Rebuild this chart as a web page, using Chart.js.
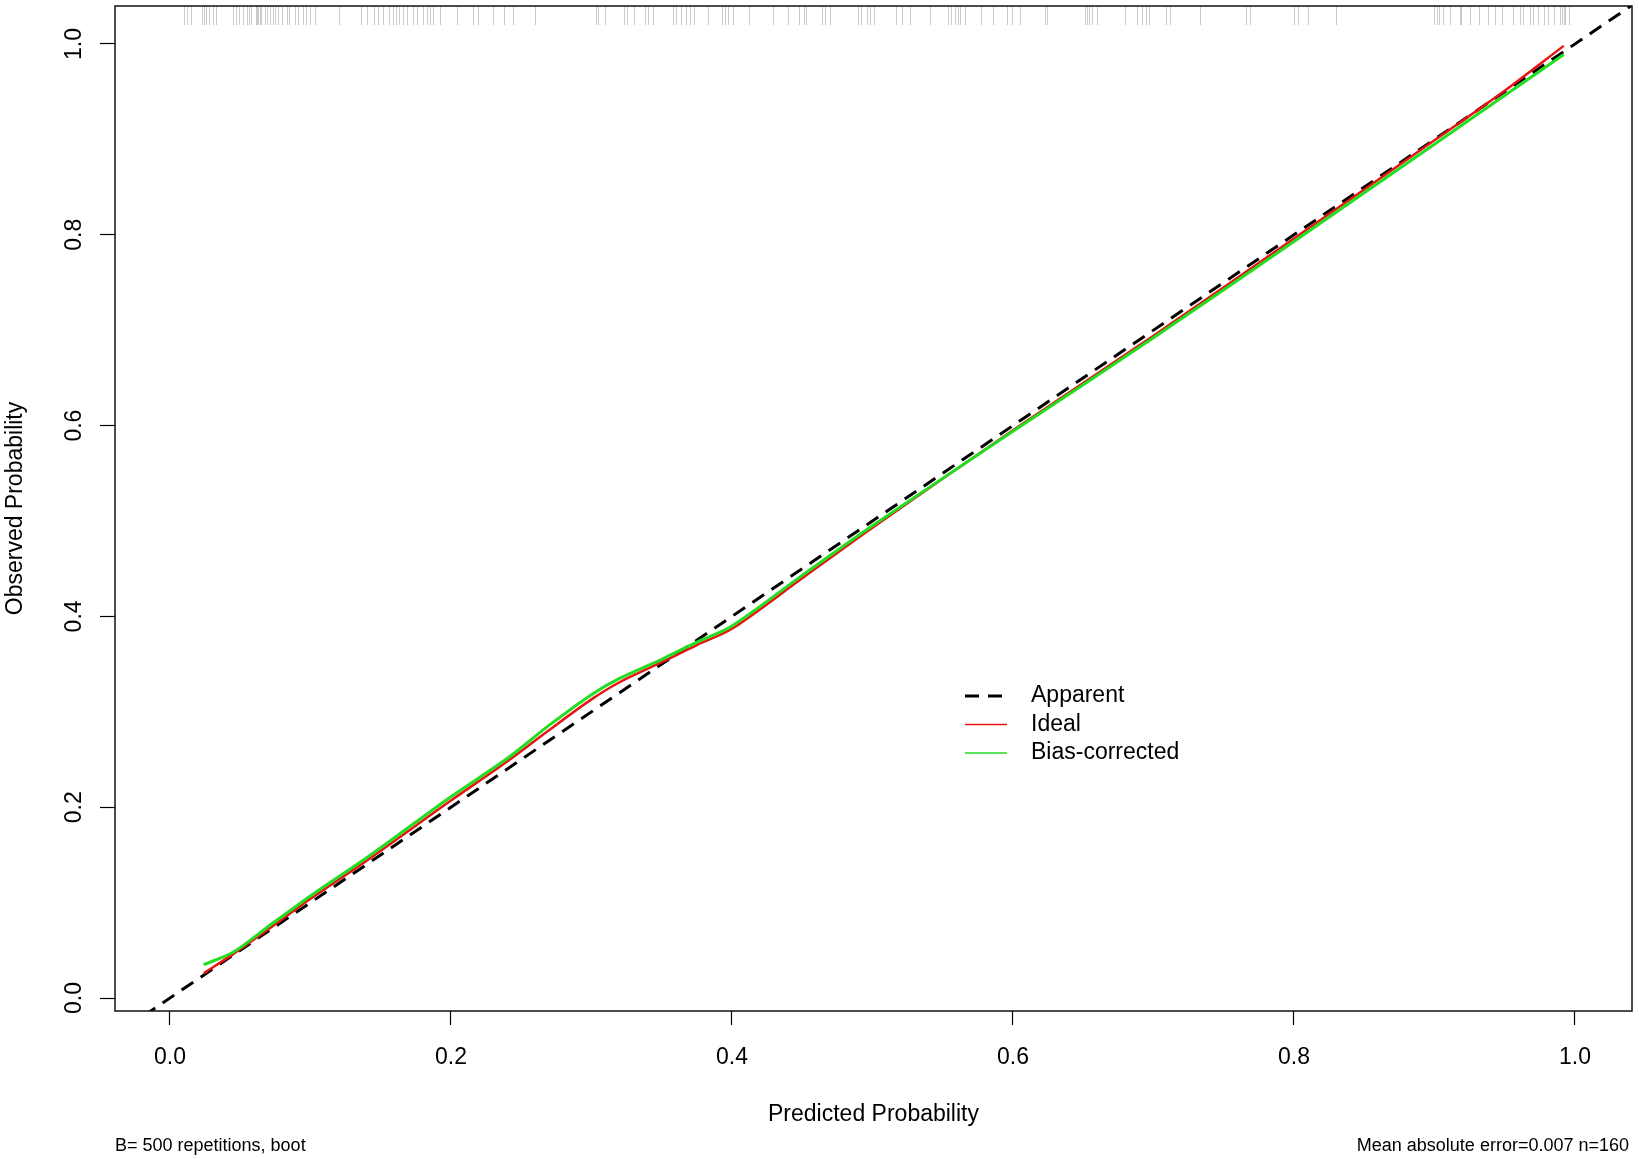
<!DOCTYPE html>
<html>
<head>
<meta charset="utf-8">
<title>Calibration curve</title>
<script src="https://cdn.jsdelivr.net/npm/chart.js@4.4.1/dist/chart.umd.min.js"></script>
<style>
  html, body { margin: 0; padding: 0; background: #fff; }
  #wrap { width: 1639px; height: 1159px; }
</style>
</head>
<body>
<div id="wrap"><canvas id="canvas" width="1639" height="1159"></canvas></div>
<script>
// predicted probability grid and the two smoothed curves
const predicted = [0.024, 0.045, 0.07, 0.1, 0.14, 0.2, 0.24, 0.27, 0.3, 0.32, 0.35, 0.375, 0.4, 0.45, 0.5, 0.6, 0.7, 0.8, 0.9, 0.95, 0.992];
const ideal = [0.026, 0.046, 0.072, 0.104, 0.144, 0.207, 0.248, 0.281, 0.313, 0.331, 0.352, 0.370, 0.387, 0.440, 0.493, 0.595, 0.694, 0.796, 0.899, 0.951, 0.998];
const biasCorrected = [0.035, 0.048, 0.075, 0.107, 0.147, 0.211, 0.251, 0.286, 0.318, 0.335, 0.355, 0.373, 0.390, 0.443, 0.495, 0.594, 0.692, 0.793, 0.895, 0.946, 0.989];

// dashed reference line (runs past the plot edges, clipped)
const apparentX = [-0.1, 1.1];
const apparentY = [-0.1, 1.1];

// rug of predicted values along the top
const rugX = [
  0.010, 0.012, 0.015, 0.023, 0.024, 0.026, 0.028, 0.031, 0.033, 0.045, 0.047, 0.049, 0.052, 0.055, 0.056, 0.058,
  0.061, 0.062, 0.063, 0.064, 0.065, 0.068, 0.069, 0.071, 0.073, 0.075, 0.077, 0.080, 0.083, 0.085, 0.089, 0.091,
  0.095, 0.097, 0.100, 0.103, 0.120, 0.136, 0.140, 0.145, 0.148, 0.152, 0.156, 0.159, 0.161, 0.163, 0.166, 0.169,
  0.173, 0.176, 0.180, 0.183, 0.185, 0.187, 0.192, 0.204, 0.216, 0.219, 0.230, 0.238, 0.244, 0.260, 0.303, 0.305,
  0.310, 0.323, 0.325, 0.330, 0.338, 0.340, 0.344, 0.358, 0.360, 0.364, 0.367, 0.370, 0.373, 0.383, 0.393, 0.395,
  0.397, 0.401, 0.412, 0.429, 0.440, 0.448, 0.451, 0.453, 0.464, 0.466, 0.470, 0.490, 0.492, 0.496, 0.498, 0.501,
  0.517, 0.521, 0.527, 0.541, 0.554, 0.556, 0.559, 0.561, 0.562, 0.566, 0.577, 0.586, 0.596, 0.599, 0.605, 0.623,
  0.624, 0.651, 0.653, 0.654, 0.656, 0.660, 0.680, 0.688, 0.692, 0.695, 0.697, 0.709, 0.712, 0.733, 0.766, 0.769,
  0.800, 0.803, 0.810, 0.830, 0.900, 0.902, 0.903, 0.906, 0.911, 0.918, 0.919, 0.925, 0.932, 0.938, 0.943, 0.948,
  0.956, 0.961, 0.963, 0.968, 0.970, 0.974, 0.978, 0.981, 0.985, 0.989, 0.991, 0.992, 0.993, 0.996
];

const xTicks = [0, 0.2, 0.4, 0.6, 0.8, 1.0];
const yTicks = [0, 0.2, 0.4, 0.6, 0.8, 1.0];
const footLeft = "B= 500 repetitions, boot";
const footRight = "Mean absolute error=0.007 n=160";

const FONT = "'Liberation Sans', Arial, Helvetica, sans-serif";
Chart.defaults.font.family = FONT;
Chart.defaults.color = "#000";

const toPoints = (xs, ys) => xs.map((v, i) => ({ x: v, y: ys[i] }));

const extras = {
  id: "extras",
  afterDatasetsDraw(chart) {
    const { ctx, chartArea: a, scales: { x } } = chart;
    ctx.save();
    ctx.strokeStyle = "rgba(140,140,140,0.45)";
    ctx.lineWidth = 1;
    rugX.forEach((v) => {
      const px = Math.round(x.getPixelForValue(v)) + 0.5;
      ctx.beginPath();
      ctx.moveTo(px, a.top);
      ctx.lineTo(px, a.top + 19);
      ctx.stroke();
    });
    ctx.restore();
  },
  afterDraw(chart) {
    const { ctx, chartArea: a, scales: { y } } = chart;
    ctx.save();

    // box round the plot
    ctx.strokeStyle = "#111";
    ctx.lineWidth = 1.5;
    ctx.strokeRect(a.left, a.top, a.right - a.left, a.bottom - a.top);

    // y tick labels, rotated like R's las=0
    ctx.fillStyle = "#000";
    ctx.font = "23px " + FONT;
    ctx.textAlign = "center";
    ctx.textBaseline = "middle";
    yTicks.forEach((v) => {
      ctx.save();
      ctx.translate(75, y.getPixelForValue(v));
      ctx.rotate(-Math.PI / 2);
      ctx.fillText(v.toFixed(1), 0, 0);
      ctx.restore();
    });

    // legend
    const rows = [696, 724.5, 753];
    chart.data.datasets.forEach((ds, i) => {
      ctx.beginPath();
      ctx.strokeStyle = ds.borderColor;
      ctx.lineWidth = ds.borderDash ? 3 : 1.5;
      ctx.setLineDash(ds.borderDash || []);
      ctx.moveTo(965, rows[i]);
      ctx.lineTo(1007, rows[i]);
      ctx.stroke();
      ctx.setLineDash([]);
      ctx.textAlign = "left";
      ctx.fillText(ds.label, 1031, rows[i]);
    });

    // footnotes
    ctx.font = "18px " + FONT;
    ctx.textBaseline = "alphabetic";
    ctx.textAlign = "left";
    ctx.fillText(footLeft, 115, 1151);
    ctx.textAlign = "right";
    ctx.fillText(footRight, 1629, 1151);
    ctx.restore();
  }
};

const config = {
  type: "scatter",
  data: {
    datasets: [
      {
        label: "Apparent",
        data: toPoints(apparentX, apparentY),
        showLine: true,
        borderColor: "#000",
        borderWidth: 3,
        borderDash: [14, 9],
        pointRadius: 0,
        clip: 0,
        order: 3,
      },
      {
        label: "Ideal",
        data: toPoints(predicted, ideal),
        showLine: true,
        borderColor: "#e81414",
        borderWidth: 2.5,
        pointRadius: 0,
        tension: 0.3,
        order: 2,
      },
      {
        label: "Bias-corrected",
        data: toPoints(predicted, biasCorrected),
        showLine: true,
        borderColor: "#22dd22",
        borderWidth: 3,
        pointRadius: 0,
        tension: 0.3,
        order: 1,
      },
    ],
  },
  options: {
    responsive: false,
    animation: false,
    events: [],
    layout: { padding: { left: 0, right: 7, top: 6, bottom: 0 } },
    plugins: {
      legend: { display: false },
      tooltip: { enabled: false },
    },
    scales: {
      x: {
        type: "linear",
        min: -0.0391,
        max: 1.0406,
        border: { display: false },
        grid: { drawOnChartArea: false, drawTicks: true, tickLength: 14, tickColor: "#000", tickWidth: 1.2 },
        ticks: {
          font: { size: 23 },
          color: "#000",
          padding: 19,
          maxRotation: 0,
          autoSkip: false,
          callback: (v) => Number(v).toFixed(1),
        },
        afterBuildTicks: (s) => { s.ticks = xTicks.map((v) => ({ value: v })); },
        afterFit: (s) => { s.height = 148; },
        title: {
          display: true,
          text: "Predicted Probability",
          font: { size: 23 },
          color: "#000",
          padding: { top: 0, bottom: 31 },
        },
      },
      y: {
        type: "linear",
        min: -0.0136,
        max: 1.0398,
        border: { display: false },
        grid: { drawOnChartArea: false, drawTicks: true, tickLength: 15, tickColor: "#000", tickWidth: 1.2 },
        ticks: { display: false },
        afterBuildTicks: (s) => { s.ticks = yTicks.map((v) => ({ value: v })); },
        afterFit: (s) => { s.width = 115; },
        title: {
          display: true,
          text: "Observed Probability",
          font: { size: 23 },
          color: "#000",
          padding: { top: 2, bottom: 0 },
        },
      },
    },
  },
  plugins: [extras],
};

const myChart = new Chart(document.getElementById("canvas").getContext("2d"), config);
</script>
</body>
</html>
